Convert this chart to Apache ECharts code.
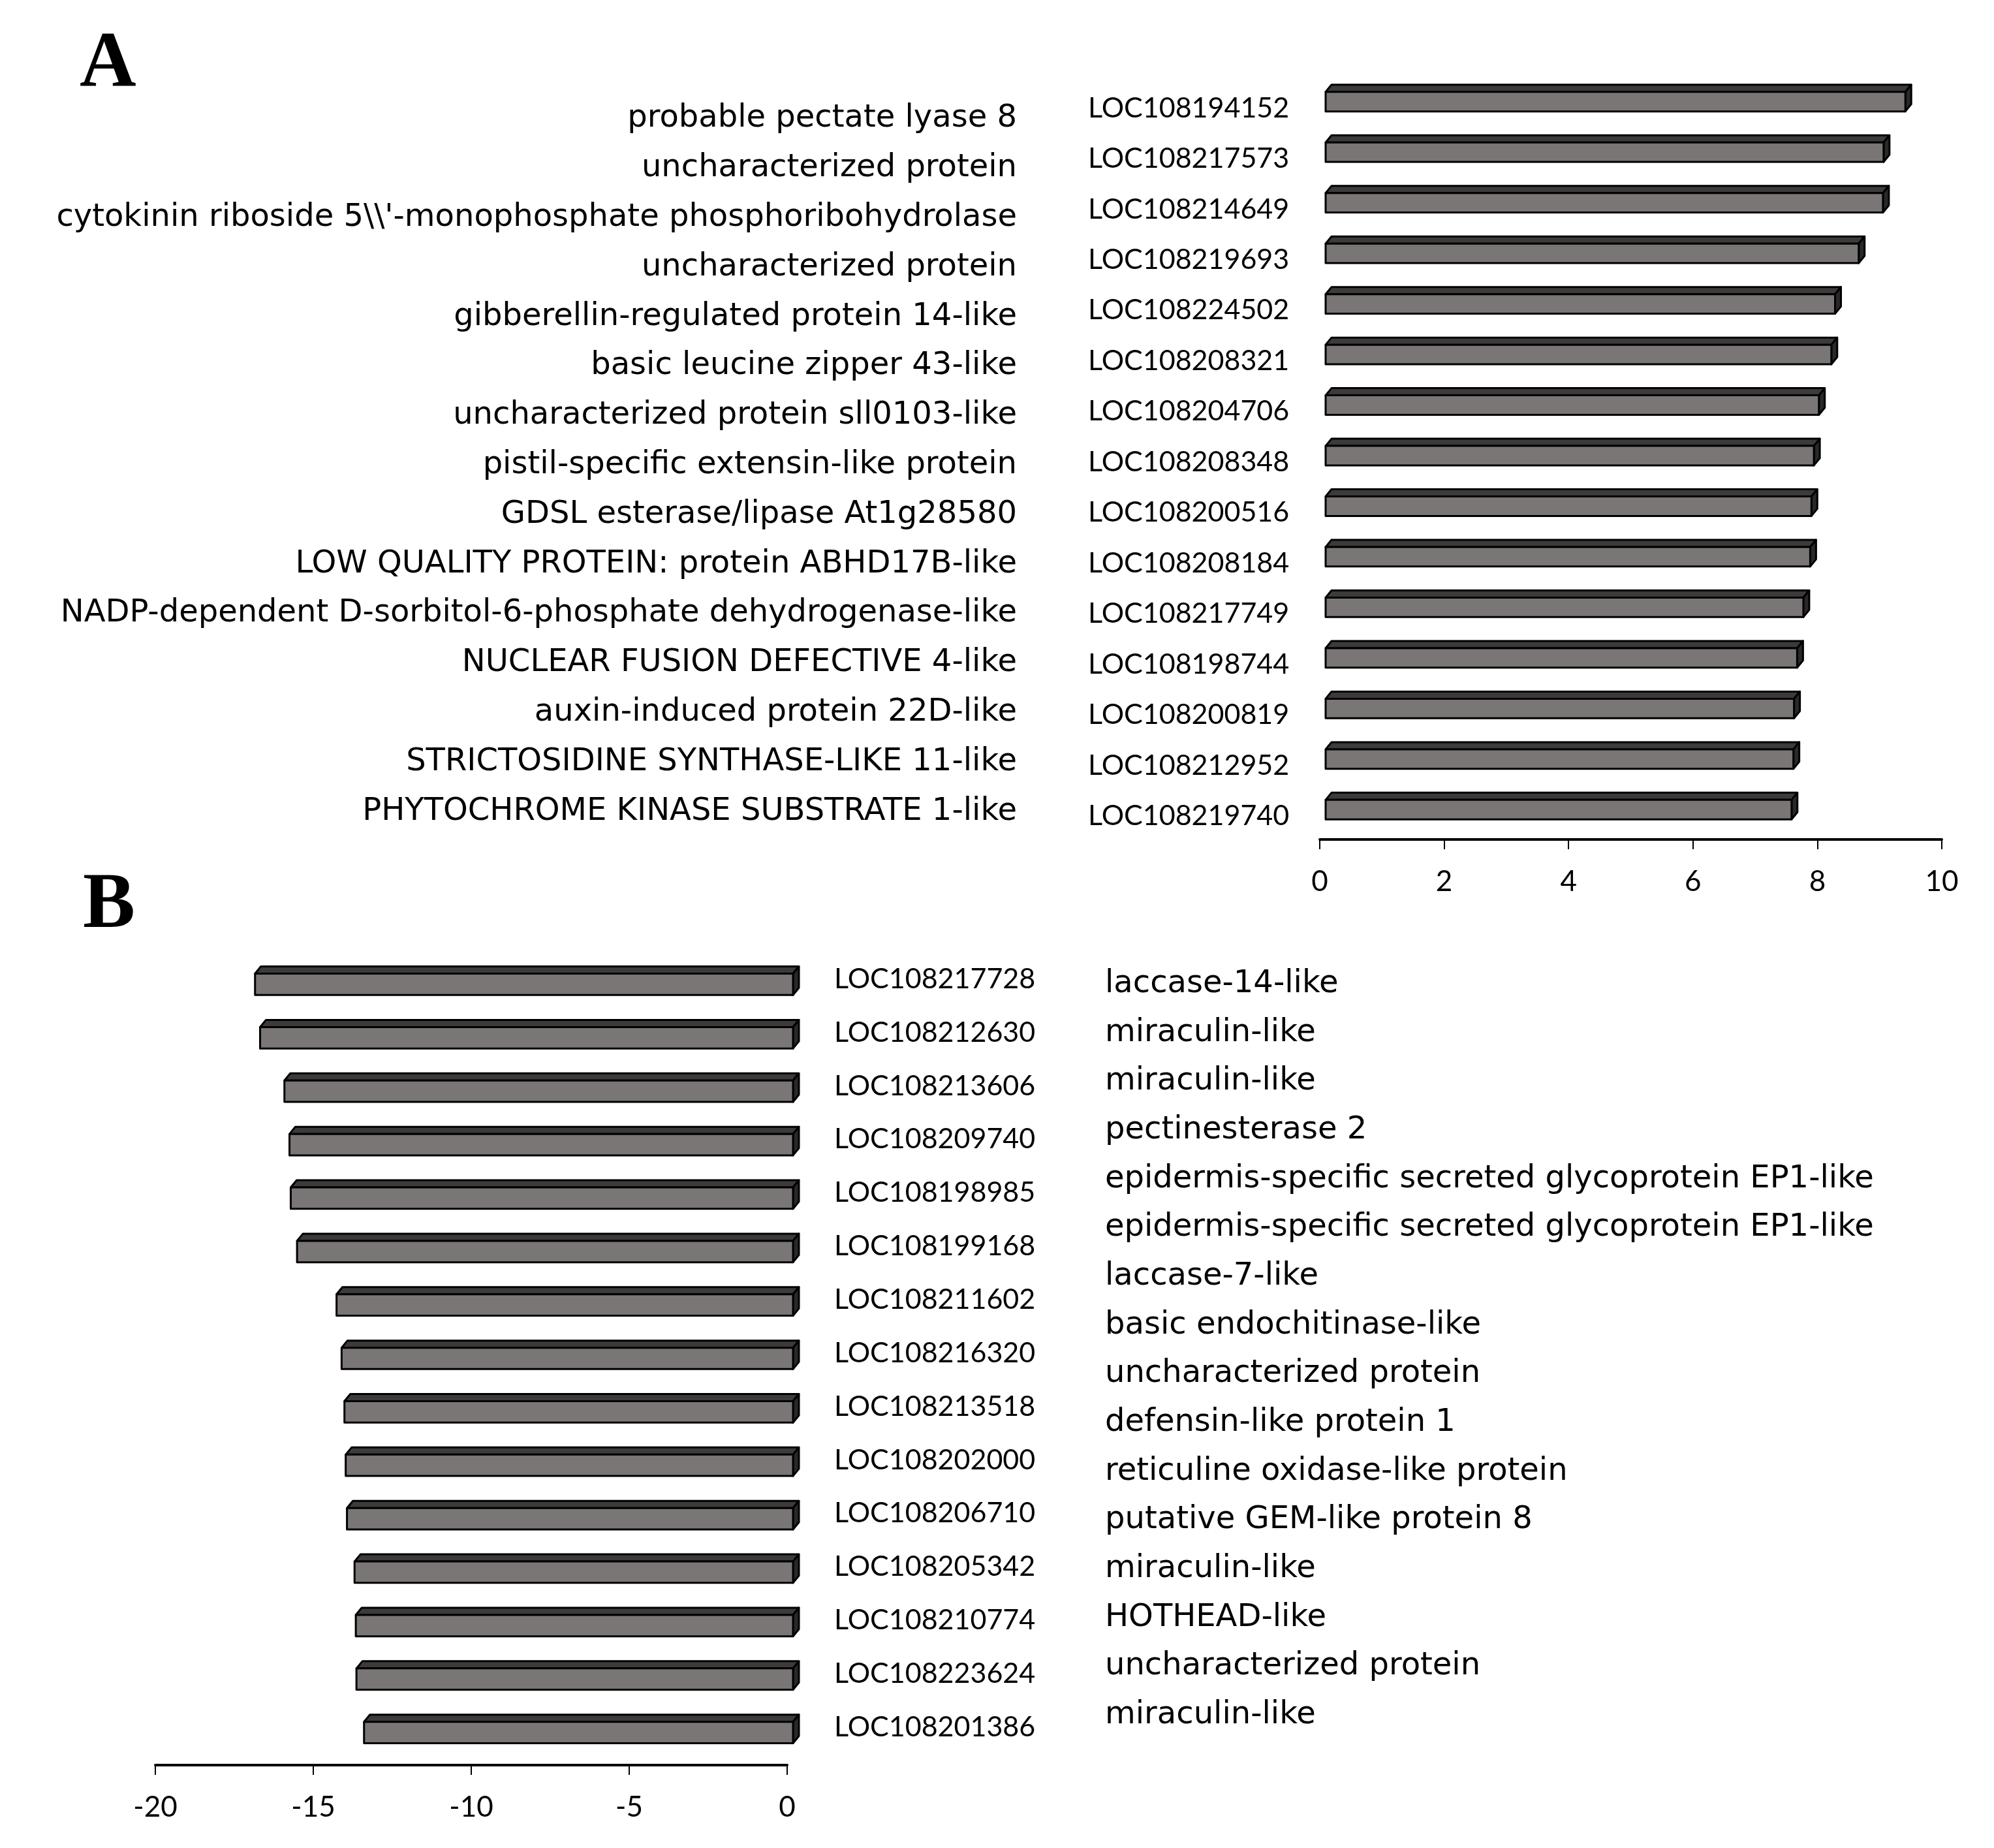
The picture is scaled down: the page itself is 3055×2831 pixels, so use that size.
<!DOCTYPE html>
<html>
<head>
<meta charset="utf-8">
<script src="https://cdn.jsdelivr.net/npm/echarts@6/dist/echarts.min.js"></script>
<style>
html,body{margin:0;padding:0;background:#fff;}
#chart{width:3055px;height:2831px;}
</style>
</head>
<body>
<div id="chart"></div>
<script>
// ---------- DATA ----------
const genesA = ['LOC108194152','LOC108217573','LOC108214649','LOC108219693','LOC108224502','LOC108208321','LOC108204706','LOC108208348','LOC108200516','LOC108208184','LOC108217749','LOC108198744','LOC108200819','LOC108212952','LOC108219740'];
const valuesA = [9.32, 8.97, 8.96, 8.57, 8.19, 8.13, 7.93, 7.85, 7.81, 7.79, 7.68, 7.58, 7.53, 7.52, 7.49];
const descA = ['probable pectate lyase 8','uncharacterized protein',"cytokinin riboside 5\\\\'-monophosphate phosphoribohydrolase",'uncharacterized protein','gibberellin-regulated protein 14-like','basic leucine zipper 43-like','uncharacterized protein sll0103-like','pistil-specific extensin-like protein','GDSL esterase/lipase At1g28580','LOW QUALITY PROTEIN: protein ABHD17B-like','NADP-dependent D-sorbitol-6-phosphate dehydrogenase-like','NUCLEAR FUSION DEFECTIVE 4-like','auxin-induced protein 22D-like','STRICTOSIDINE SYNTHASE-LIKE 11-like','PHYTOCHROME KINASE SUBSTRATE 1-like'];

const genesB = ['LOC108217728','LOC108212630','LOC108213606','LOC108209740','LOC108198985','LOC108199168','LOC108211602','LOC108216320','LOC108213518','LOC108202000','LOC108206710','LOC108205342','LOC108210774','LOC108223624','LOC108201386'];
const valuesB = [-17.03, -16.87, -16.10, -15.94, -15.90, -15.70, -14.45, -14.29, -14.20, -14.16, -14.12, -13.88, -13.84, -13.82, -13.58];
const descB = ['laccase-14-like','miraculin-like','miraculin-like','pectinesterase 2','epidermis-specific secreted glycoprotein EP1-like','epidermis-specific secreted glycoprotein EP1-like','laccase-7-like','basic endochitinase-like','uncharacterized protein','defensin-like protein 1','reticuline oxidase-like protein','putative GEM-like protein 8','miraculin-like','HOTHEAD-like','uncharacterized protein','miraculin-like'];

const ticksA = {min: 0, max: 10, interval: 2};
const ticksB = {min: -20, max: 0, interval: 5};

// ---------- STYLE ----------
const FRONT = '#7a7676', TOP = '#3c3a3a', SIDE = '#2a2929', EDGE = '#000';
const LABEL_FONT = 'Lato';
const DESC_FONT = 'DejaVu Sans';

function bar3d(ratio) {
  return function (params, api) {
    const cat = api.value(1);
    const p0 = api.coord([0, cat]);
    const p1 = api.coord([api.value(0), cat]);
    const band = api.size([0, 1])[1];
    const h = band * ratio;
    const ox = 9, dx = 9, dy = -11;
    const xa = Math.min(p0[0], p1[0]) + ox;
    const xb = Math.max(p0[0], p1[0]) + ox;
    const yT = p0[1] - h / 2, yB = yT + h;
    const st = {stroke: EDGE, lineWidth: 3, lineJoin: 'round'};
    return {
      type: 'group',
      children: [
        {type: 'polygon', shape: {points: [[xa, yT], [xb, yT], [xb + dx, yT + dy], [xa + dx, yT + dy]]}, style: Object.assign({fill: TOP}, st)},
        {type: 'polygon', shape: {points: [[xb, yT], [xb + dx, yT + dy], [xb + dx, yB + dy], [xb, yB]]}, style: Object.assign({fill: SIDE}, st)},
        {type: 'rect', shape: {x: xa, y: yT, width: xb - xa, height: h}, style: Object.assign({fill: FRONT}, st)}
      ]
    };
  };
}

const hiddenX = (grid) => ({type: 'value', gridIndex: grid, show: false, min: 0, max: 1});
const labelAxis = (grid, data, pos, margin, align, font, size) => ({
  type: 'category', gridIndex: grid, data: data, inverse: true, position: pos,
  axisLine: {show: false}, axisTick: {show: false}, splitLine: {show: false},
  axisLabel: {show: true, interval: 0, margin: margin, align: align, fontFamily: font, fontSize: size, color: '#000'}
});
const valueAxis = (grid, t, offset) => ({
  type: 'value', gridIndex: grid, min: t.min, max: t.max, interval: t.interval, offset: offset,
  axisLine: {show: true, lineStyle: {color: '#000', width: 4}},
  axisTick: {show: true, length: 15, lineStyle: {color: '#000', width: 2}},
  axisLabel: {margin: 43, fontFamily: LABEL_FONT, fontSize: 44, color: '#000'},
  splitLine: {show: false}
});

const option = {
  animation: false,
  backgroundColor: '#fff',
  graphic: [
    {type: 'text', left: 122, top: 40, style: {text: 'A', font: 'bold 120px "Liberation Serif"', fill: '#000'}},
    {type: 'text', left: 127, top: 1329, style: {text: 'B', font: 'bold 120px "Liberation Serif"', fill: '#000'}}
  ],
  grid: [
    {left: 2022, width: 953, top: 117, height: 1162},      // 0: A bars
    {left: 238, width: 968, top: 1467, height: 1228},      // 1: B bars
    {left: 1583, width: 20, top: 144, height: 1137},       // 2: A descriptions
    {left: 1633, width: 20, top: 1470, height: 1195},      // 3: B descriptions
    {left: 2022, width: 953, top: 127, height: 1162},      // 4: A gene ids
    {left: 238, width: 968, top: 1459, height: 1228}       // 5: B gene ids
  ],
  xAxis: [
    valueAxis(0, ticksA, 7),
    valueAxis(1, ticksB, 9),
    hiddenX(2), hiddenX(3), hiddenX(4), hiddenX(5)
  ],
  yAxis: [
    Object.assign(labelAxis(0, genesA, 'left', 0, 'right', LABEL_FONT, 43), {axisLabel: {show: false}}),
    Object.assign(labelAxis(1, genesB, 'right', 0, 'left', LABEL_FONT, 43), {axisLabel: {show: false}}),
    labelAxis(2, descA, 'left', 25, 'right', DESC_FONT, 48),
    labelAxis(3, descB, 'right', 40, 'left', DESC_FONT, 48),
    labelAxis(4, genesA, 'left', 355, 'left', LABEL_FONT, 43),
    labelAxis(5, genesB, 'right', 72, 'left', LABEL_FONT, 43)
  ],
  series: [
    {type: 'custom', xAxisIndex: 0, yAxisIndex: 0, renderItem: bar3d(0.385),
      data: valuesA.map((v, i) => [v, i]), encode: {x: 0, y: 1}},
    {type: 'custom', xAxisIndex: 1, yAxisIndex: 1, renderItem: bar3d(0.40),
      data: valuesB.map((v, i) => [v, i]), encode: {x: 0, y: 1}}
  ]
};

const chart = echarts.init(document.getElementById('chart'), null, {renderer: 'canvas'});
chart.setOption(option);
</script>
</body>
</html>
